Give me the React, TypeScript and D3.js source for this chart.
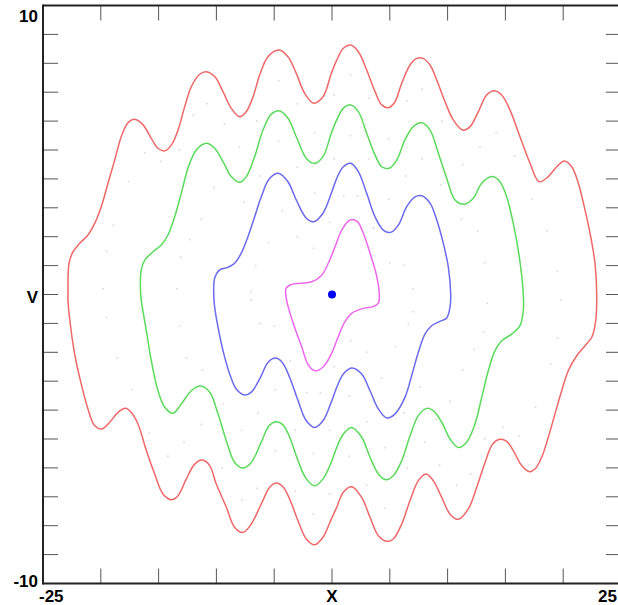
import React from 'react';
import * as d3 from 'd3';

// phase portrait: x (position) against v (velocity)
const redOrbit: [number, number][] = [
  [-22.84, 0], [-22.75, 1.08], [-22.4, 1.48], [-21.83, 1.77], [-21.11, 2.06], [-20.53, 2.46],
  [-19.96, 3.04], [-19.38, 3.85], [-18.8, 4.65], [-18.23, 5.46], [-17.65, 5.94], [-17.07, 6.06],
  [-16.35, 5.87], [-15.63, 5.4], [-15.05, 5.06], [-14.47, 4.97], [-13.9, 5.17], [-13.32, 5.69],
  [-12.74, 6.5], [-12.17, 7.19], [-11.44, 7.62], [-10.87, 7.71], [-10.15, 7.54], [-9.43, 7.02],
  [-8.71, 6.44], [-7.98, 6.15], [-7.41, 6.33], [-6.83, 6.84], [-6.25, 7.6], [-5.54, 8.23],
  [-4.58, 8.46], [-3.81, 8.23], [-3.09, 7.65], [-2.36, 6.96], [-1.58, 6.62], [-0.78, 6.84],
  [-0.06, 7.65], [0.41, 8.11], [0.98, 8.52], [1.62, 8.63], [2.28, 8.4], [3.0, 7.77],
  [3.72, 7.02], [4.3, 6.56], [4.87, 6.46], [5.45, 6.67], [6.03, 7.31], [6.75, 7.94],
  [7.33, 8.17], [7.85, 8.17], [8.48, 7.94], [9.06, 7.42], [9.78, 6.67], [10.49, 6.04],
  [11.31, 5.69], [11.94, 5.81], [12.66, 6.33], [13.38, 6.9], [14.01, 7.05], [14.68, 6.9],
  [15.4, 6.38], [16.26, 5.46], [17.13, 4.54], [17.93, 3.9], [18.71, 4.08], [19.44, 4.42],
  [20.1, 4.62], [20.74, 4.42], [21.31, 3.85], [21.89, 2.92], [22.38, 2.0], [22.75, 1.08],
  [22.9, 0], [22.81, -0.91], [22.47, -1.48], [21.89, -1.77], [21.17, -2.12], [20.44, -2.64],
  [19.87, -3.33], [19.29, -4.13], [18.71, -4.94], [18.14, -5.63], [17.56, -6.04], [17.07, -6.13],
  [16.41, -5.92], [15.68, -5.4], [15.11, -5.08], [14.53, -5.01], [13.9, -5.17], [13.24, -5.81],
  [12.52, -6.67], [11.79, -7.42], [10.93, -7.78], [10.21, -7.6], [9.49, -7.02], [8.76, -6.44],
  [8.13, -6.21], [7.47, -6.44], [6.75, -7.13], [6.03, -7.94], [5.3, -8.46], [4.73, -8.54],
  [4.01, -8.35], [3.29, -7.71], [2.57, -7.02], [1.7, -6.65], [0.98, -6.84], [0.41, -7.36],
  [-0.09, -7.8], [-0.78, -8.4], [-1.5, -8.66], [-2.22, -8.46], [-2.94, -7.83], [-3.66, -7.08],
  [-4.24, -6.65], [-4.82, -6.52], [-5.39, -6.67], [-6.12, -7.25], [-6.98, -7.94], [-7.7, -8.23],
  [-8.42, -8.06], [-9.14, -7.36], [-10.01, -6.56], [-10.58, -5.92], [-11.22, -5.73], [-11.88, -5.87],
  [-12.6, -6.38], [-13.32, -6.96], [-13.9, -7.1], [-14.62, -6.9], [-15.34, -6.21], [-16.06, -5.4],
  [-16.78, -4.48], [-17.36, -4.08], [-17.85, -3.94], [-18.51, -4.08], [-19.23, -4.42], [-19.9, -4.65],
  [-20.53, -4.54], [-21.11, -3.96], [-21.69, -3.1], [-22.26, -2.06], [-22.64, -1.02], [-22.84, -0.21],
];

const greenOrbit: [number, number][] = [
  [-16.55, 0], [-16.5, 0.85], [-16.2, 1.19], [-15.48, 1.48], [-14.77, 1.71], [-14.19, 2.06],
  [-13.61, 2.69], [-13.04, 3.5], [-12.46, 4.37], [-11.74, 5.0], [-10.87, 5.23], [-10.15, 5.06],
  [-9.43, 4.6], [-8.71, 4.08], [-7.98, 3.88], [-7.41, 4.08], [-6.69, 4.77], [-5.97, 5.69],
  [-5.25, 6.24], [-4.58, 6.36], [-3.81, 6.1], [-3.09, 5.46], [-2.22, 4.71], [-1.5, 4.54],
  [-0.78, 4.77], [-0.06, 5.58], [0.41, 6.04], [0.98, 6.44], [1.62, 6.56], [2.28, 6.33],
  [3.0, 5.58], [3.72, 4.83], [4.3, 4.42], [4.96, 4.37], [5.6, 4.65], [6.31, 5.35],
  [7.03, 5.81], [7.76, 5.94], [8.48, 5.69], [9.2, 4.89], [9.92, 4.02], [10.64, 3.27],
  [11.44, 3.12], [12.22, 3.33], [12.95, 3.85], [13.87, 4.08], [14.53, 3.9], [15.11, 3.38],
  [15.68, 2.46], [16.2, 1.31], [16.55, 0], [16.55, -0.56], [16.26, -1.08], [15.54, -1.37],
  [14.68, -1.6], [14.1, -1.94], [13.52, -2.64], [12.95, -3.56], [12.37, -4.48], [11.65, -5.11],
  [10.93, -5.29], [10.21, -5.0], [9.49, -4.42], [8.76, -4.02], [8.19, -3.94], [7.47, -4.19],
  [6.75, -4.89], [6.03, -5.75], [5.3, -6.27], [4.67, -6.41], [4.01, -6.21], [3.29, -5.63],
  [2.57, -4.94], [1.7, -4.6], [0.98, -4.83], [0.41, -5.29], [-0.09, -5.83], [-0.78, -6.38],
  [-1.5, -6.62], [-2.22, -6.38], [-2.94, -5.75], [-3.66, -4.94], [-4.24, -4.51], [-4.82, -4.4],
  [-5.45, -4.54], [-6.12, -5.11], [-6.98, -5.81], [-7.7, -6.0], [-8.42, -5.81], [-9.14, -5.06],
  [-9.86, -4.13], [-10.58, -3.38], [-11.39, -3.17], [-12.17, -3.33], [-13.04, -3.79], [-13.75, -4.11],
  [-14.47, -3.9], [-15.05, -3.33], [-15.63, -2.29], [-16.06, -1.25], [-16.41, -0.44],
];

const blueOrbit: [number, number][] = [
  [-10.23, 0], [-10.15, 0.56], [-9.71, 0.85], [-9.0, 0.94], [-8.42, 1.08], [-7.85, 1.43],
  [-7.27, 2.0], [-6.69, 2.69], [-6.12, 3.38], [-5.39, 4.02], [-4.58, 4.19], [-3.81, 3.9],
  [-3.09, 3.27], [-2.22, 2.64], [-1.58, 2.52], [-0.78, 2.81], [-0.06, 3.5], [0.41, 4.02],
  [0.98, 4.42], [1.62, 4.54], [2.28, 4.25], [3.0, 3.5], [3.72, 2.69], [4.44, 2.23],
  [5.08, 2.15], [5.74, 2.4], [6.46, 3.04], [7.18, 3.38], [7.76, 3.42], [8.48, 3.16],
  [9.06, 2.58], [9.63, 1.77], [10.06, 0.96], [10.27, 0], [10.21, -0.44], [9.92, -0.81],
  [9.34, -0.93], [8.62, -1.08], [8.04, -1.37], [7.47, -2.0], [6.89, -2.81], [6.31, -3.56],
  [5.45, -4.13], [4.73, -4.27], [4.01, -3.96], [3.29, -3.33], [2.57, -2.75], [1.7, -2.54],
  [0.98, -2.75], [0.41, -3.21], [-0.09, -3.75], [-0.78, -4.37], [-1.5, -4.6], [-2.22, -4.37],
  [-2.94, -3.67], [-3.66, -2.87], [-4.3, -2.35], [-4.9, -2.2], [-5.54, -2.35], [-6.25, -2.92],
  [-6.98, -3.38], [-7.55, -3.48], [-8.28, -3.27], [-8.85, -2.75], [-9.43, -1.94], [-9.86, -1.13],
  [-10.15, -0.44],
];

const magentaOrbit: [number, number][] = [
  [-3.98, 0.21], [-3.63, 0.33], [-2.77, 0.39], [-1.76, 0.44], [-0.89, 0.67], [-0.32, 1.08],
  [0.26, 1.65], [0.84, 2.23], [1.56, 2.58], [2.19, 2.52], [2.71, 2.12], [3.29, 1.43],
  [3.81, 0.73], [4.09, 0.04], [4.01, -0.3], [3.57, -0.42], [2.71, -0.48], [1.7, -0.65],
  [1.12, -0.94], [0.54, -1.46], [-0.03, -2.03], [-0.75, -2.5], [-1.47, -2.64], [-2.05, -2.44],
  [-2.62, -1.81], [-3.35, -1.0], [-3.87, -0.3], [-4.01, 0.04],
];

// equilibrium point
const fixedPoint: [number, number] = [0, 0];

// faint scattered samples between the orbits
const speckles: [number, number][] = [
  [-19.8, 0.2], [-19.5, 1.5], [-18.9, 2.4], [-17.6, 3.9], [-16.2, 4.9], [-14.8, 4.6], [-13.2, 5.0],
  [-12.0, 6.2], [-10.8, 6.6], [-9.3, 5.9], [-8.0, 5.1], [-6.5, 6.0], [-4.6, 7.4], [-3.0, 6.6],
  [-1.5, 5.6], [0.2, 6.9], [1.6, 7.6], [3.2, 6.8], [4.9, 5.4], [6.5, 6.7], [7.8, 7.1], [9.5, 6.0],
  [11.3, 4.5], [12.8, 5.1], [14.2, 5.6], [15.8, 4.8], [17.3, 3.3], [18.6, 2.2], [19.5, 0.8],
  [19.8, -0.2], [19.5, -1.5], [18.9, -2.4], [17.6, -3.9], [16.2, -4.9], [14.8, -4.6], [13.2, -5.0],
  [12.0, -6.2], [10.8, -6.6], [9.3, -5.9], [8.0, -5.1], [6.5, -6.0], [4.6, -7.4], [3.0, -6.6],
  [1.5, -5.6], [-0.2, -6.9], [-1.6, -7.6], [-3.2, -6.8], [-4.9, -5.4], [-6.5, -6.7], [-7.8, -7.1],
  [-9.5, -6.0], [-11.3, -4.5], [-12.8, -5.1], [-14.2, -5.6], [-15.8, -4.8], [-17.3, -3.3],
  [-18.6, -2.2], [-19.5, -0.8],
  [-13.4, 0.2], [-13.1, 1.3], [-12.3, 1.9], [-11.3, 2.6], [-10.2, 3.7], [-9.0, 4.3], [-7.6, 3.2],
  [-6.2, 4.1], [-4.6, 5.3], [-3.0, 4.4], [-1.5, 3.5], [0.2, 4.7], [1.6, 5.5], [3.2, 4.7], [4.9, 3.3],
  [6.4, 4.1], [7.8, 4.7], [9.4, 3.8], [11.2, 2.6], [12.6, 2.2], [13.2, 1.1], [13.4, -0.3],
  [13.1, -1.3], [12.3, -1.9], [11.3, -2.6], [10.2, -3.7], [9.0, -4.3], [7.6, -3.2], [6.2, -4.1],
  [4.6, -5.3], [3.0, -4.4], [1.5, -3.5], [-0.2, -4.7], [-1.6, -5.5], [-3.2, -4.7], [-4.9, -3.3],
  [-6.4, -4.1], [-7.8, -4.7], [-9.4, -3.8], [-11.2, -2.6], [-12.6, -2.2], [-13.2, -1.1],
  [-7.0, 0.1], [-6.6, 1.0], [-5.5, 1.8], [-4.3, 2.9], [-3.0, 2.0], [-1.6, 1.6], [-0.2, 2.5],
  [1.0, 3.4], [2.2, 3.4], [3.6, 2.3], [5.0, 1.1], [6.2, 1.0], [7.0, 0.2], [7.0, -0.6],
  [6.6, -1.0], [5.5, -1.8], [4.3, -2.9], [3.0, -2.0], [1.6, -1.6], [0.2, -2.5], [-1.0, -3.4],
  [-2.2, -3.4], [-3.6, -2.3], [-5.0, -1.1], [-6.2, -1.0], [-7.0, -0.2],
];

const orbits = [
  { name: 'red', points: redOrbit, color: '#ee6868' },
  { name: 'green', points: greenOrbit, color: '#5ada5a' },
  { name: 'blue', points: blueOrbit, color: '#6a6aee' },
  { name: 'magenta', points: magentaOrbit, color: '#ee66ee' },
];

const xDomain: [number, number] = [-25, 25];
const yDomain: [number, number] = [-10, 10];
const xLabel = 'X';
const yLabel = 'V';

const W = 618;
const H = 605;
const margin = { top: 5.5, right: -3, bottom: 21.5, left: 43 };
const tickLen = 15;
const font = '"Liberation Sans", Arial, Helvetica, sans-serif';

const App = () => {
  const x = d3.scaleLinear().domain(xDomain).range([margin.left, W - margin.right]);
  const y = d3.scaleLinear().domain(yDomain).range([H - margin.bottom, margin.top]);

  const line = d3
    .line<[number, number]>()
    .x((d) => x(d[0]))
    .y((d) => y(d[1]))
    .curve(d3.curveCatmullRomClosed.alpha(0.5));

  const left = x(xDomain[0]);
  const right = x(xDomain[1]);
  const top = y(yDomain[1]);
  const bottom = y(yDomain[0]);

  const yTicks = y.ticks(20);
  const xTicks = x.ticks(10);

  return (
    <svg
      width={W}
      height={H}
      style={{ position: 'absolute', left: 0, top: 0, background: '#fff' }}
      fontFamily={font}
    >
      <g>
        {speckles.map((d, i) => (
          <circle key={i} cx={x(d[0])} cy={y(d[1])} r={1} fill="#dedede" />
        ))}
      </g>

      {orbits.map((o) => (
        <path key={o.name} d={line(o.points) ?? ''} fill="none" stroke={o.color} strokeWidth={1.5} />
      ))}

      <circle cx={x(fixedPoint[0])} cy={y(fixedPoint[1])} r={4} fill="#0000ff" />

      {/* ticks on all four sides, pointing inward */}
      <g stroke="#555" strokeWidth={1}>
        {yTicks.map((t) => (
          <g key={'y' + t}>
            <line x1={left} x2={left + tickLen} y1={y(t)} y2={y(t)} />
            <line x1={right} x2={right - tickLen} y1={y(t)} y2={y(t)} />
          </g>
        ))}
        {xTicks.map((t) => (
          <g key={'x' + t}>
            <line x1={x(t)} x2={x(t)} y1={top} y2={top + tickLen} />
            <line x1={x(t)} x2={x(t)} y1={bottom} y2={bottom - tickLen} />
          </g>
        ))}
      </g>

      <g stroke="#222" strokeWidth={2} fill="none">
        <line x1={left} x2={right} y1={top} y2={top} />
        <line x1={left} x2={right} y1={bottom} y2={bottom} />
        <line x1={left} x2={left} y1={top - 1} y2={bottom + 1} />
        <line x1={right} x2={right} y1={top - 1} y2={bottom + 1} />
      </g>

      <g fontSize={17} fontWeight="bold" fill="#000">
        <text x={left - 5} y={top + 16.5} textAnchor="end">{yDomain[1]}</text>
        <text x={left - 5} y={bottom + 3.5} textAnchor="end">{yDomain[0]}</text>
        <text x={left - 5} y={y(0) + 8.5} textAnchor="end">{yLabel}</text>
        <text x={left - 4} y={bottom + 18.5} textAnchor="start">{xDomain[0]}</text>
        <text x={W - 1} y={bottom + 18.5} textAnchor="end">{xDomain[1]}</text>
        <text x={x(0)} y={bottom + 18.5} textAnchor="middle">{xLabel}</text>
      </g>
    </svg>
  );
};

export default App;
